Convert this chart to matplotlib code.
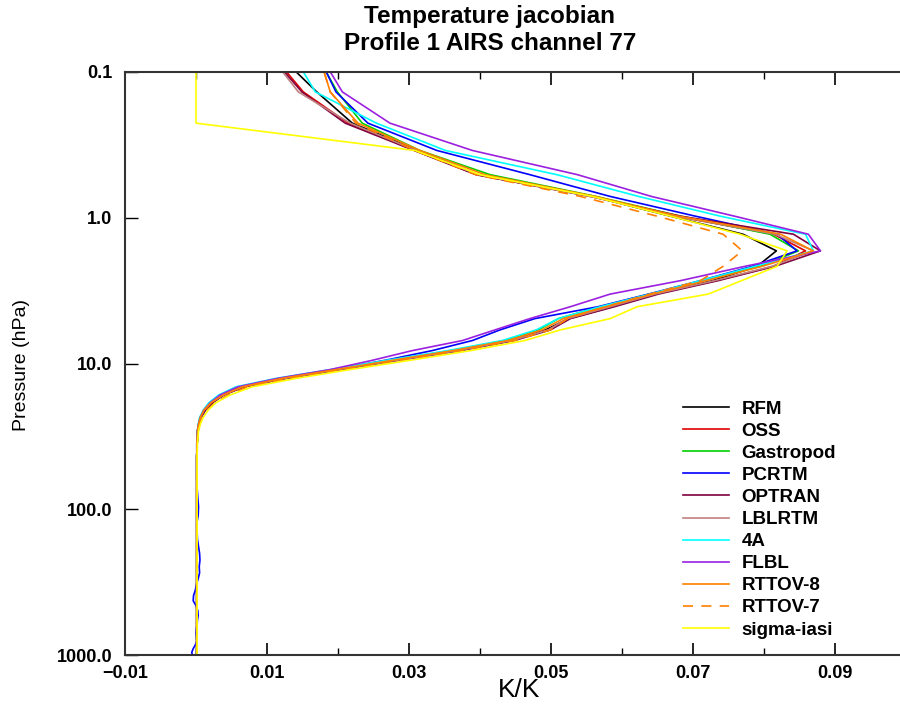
import numpy as np
import matplotlib
matplotlib.use("Agg")
import matplotlib.pyplot as plt
from matplotlib.ticker import FixedLocator, NullLocator

plt.rcParams['font.family'] = ['Liberation Sans', 'DejaVu Sans']

# AIRS pressure levels (hPa), upper part then a subset of the lower ones
p_upper = [0.0769, 0.137, 0.2244, 0.3454, 0.5064, 0.714, 0.9753, 1.2972, 1.6872,
           2.1526, 2.7009, 3.3398, 4.077, 4.9204, 5.8776, 6.9567, 8.1655, 9.5119,
           11.0038, 12.6492, 14.4559, 16.4318, 18.5847, 20.9224, 23.4526, 26.1829, 29.121]
p_lower = [35.65, 43.1, 51.53, 60.99, 71.54, 83.23, 96.11, 110.2, 125.6, 142.4,
           160.5, 180.0, 201.0, 223.4, 247.4, 272.9, 300.0, 328.7, 359.0, 390.9,
           424.5, 459.7, 496.6, 535.2, 575.5, 617.5, 661.2, 706.6, 753.6, 802.4,
           852.8, 904.9, 958.6, 1013.9]
pressure = p_upper + p_lower

# jacobians in units of 1e-3 K/K
rfm = [11.7, 17.0, 22.0, 31.3, 39.7, 55.8, 66.8, 77.0, 81.7, 79.0, 72.7, 64.6, 58.6, 52.5,
       49.2, 44.2, 36.5, 28.0, 20.0, 12.5, 6.6, 3.9, 2.3, 1.3, 0.7, 0.4, 0.3]
oss = [10.8, 15.1, 21.4, 30.8, 39.6, 55.8, 67.5, 81.3, 85.8, 81.3, 73.2, 64.6, 58.3, 52.3,
       49.6, 44.5, 36.9, 28.2, 20.0, 12.4, 6.5, 3.8, 2.1, 1.1, 0.6, 0.35, 0.2]
gastropod = [17.0, 19.9, 23.4, 31.5, 41.4, 56.3, 68.2, 80.8, 84.8, 79.4, 71.4, 63.9, 56.9, 51.0,
             48.2, 43.5, 35.8, 27.3, 19.3, 11.8, 6.2, 3.7, 2.1, 1.1, 0.6, 0.35, 0.2]
pcrtm = [17.2, 19.7, 24.2, 33.9, 47.0, 58.3, 70.3, 81.8, 84.6, 78.3, 71.0, 63.7, 56.6, 47.7,
         42.8, 38.9, 33.2, 26.6, 19.6, 12.1, 6.3, 3.7, 2.1, 1.1, 0.6, 0.35, 0.2]
optran = [10.4, 14.9, 21.0, 30.7, 39.4, 55.5, 68.2, 84.1, 87.9, 81.5, 73.5, 65.1, 58.9, 52.7,
          49.9, 44.8, 37.2, 28.5, 20.3, 12.7, 6.8, 3.9, 2.3, 1.3, 0.7, 0.4, 0.3]
lblrtm = [10.4, 14.4, 21.7, 31.0, 39.7, 55.5, 67.6, 81.5, 86.9, 81.1, 73.0, 64.6, 58.3, 52.3,
          49.6, 44.5, 36.8, 28.2, 20.0, 12.4, 6.5, 3.8, 2.1, 1.1, 0.6, 0.35, 0.2]
fourA = [13.7, 16.8, 25.4, 35.1, 50.8, 62.3, 73.8, 85.8, 86.9, 78.7, 71.0, 63.9, 56.9, 51.0,
         47.9, 43.1, 35.4, 26.8, 18.9, 11.3, 5.6, 3.2, 1.8, 1.0, 0.5, 0.3, 0.2]
flbl = [17.5, 20.6, 27.3, 38.9, 53.7, 64.1, 75.8, 86.2, 87.9, 77.3, 68.2, 58.3, 52.7, 47.0,
        42.1, 37.5, 30.4, 24.8, 18.9, 11.5, 5.9, 3.4, 2.0, 1.1, 0.6, 0.35, 0.2]
rttov8 = [17.3, 18.9, 22.8, 31.5, 40.7, 56.2, 67.9, 82.3, 86.9, 79.7, 71.8, 64.2, 57.7, 51.7,
          48.7, 43.9, 36.1, 27.6, 19.7, 12.1, 6.5, 3.8, 2.1, 1.1, 0.6, 0.35, 0.2]
rttov7 = [17.3, 18.9, 22.5, 30.8, 39.4, 54.1, 64.9, 74.2, 76.9, 74.2, 71.0, 63.9, 57.6, 52.3,
          49.9, 44.8, 37.2, 28.7, 20.6, 13.2, 7.3, 4.5, 2.7, 1.5, 0.85, 0.5, 0.3]
sigma = [0.0, 0.0, 0.0, 30.8, 40.0, 55.8, 66.8, 76.6, 83.2, 81.8, 76.8, 72.1, 62.1, 58.3,
         51.3, 46.3, 38.6, 30.1, 21.7, 14.1, 7.9, 4.8, 2.8, 1.7, 1.0, 0.6, 0.35]

# lower troposphere: nearly zero everywhere
tail = [0.15, 0.1, 0.1, 0.1, 0.1, 0.1, 0.1, 0.1, 0.1, 0.1, 0.1, 0.1, 0.1, 0.1, 0.1, 0.1, 0.1,
        0.1, 0.1, 0.1, 0.1, 0.1, 0.1, 0.1, 0.1, 0.1, 0.1, 0.1, 0.1, 0.1, 0.1, 0.1, 0.1, 0.1]
tail_pcrtm = [0.1, 0.1, 0.1, 0.1, 0.15, 0.25, 0.35, 0.3, 0.1, 0.15, 0.2, 0.35, 0.5, 0.55,
              0.45, 0.5, 0.3, 0.05, -0.1, -0.35, -0.4, 0.0, 0.25, 0.3, 0.2, 0.15, 0.05, 0.0,
              0.05, 0.1, -0.1, -0.4, -0.6, -0.5]
tail_sigma = [0.2, 0.15, 0.15, 0.15, 0.15, 0.15, 0.15, 0.15, 0.15, 0.15, 0.15, 0.15, 0.15,
              0.15, 0.15, 0.15, 0.15, 0.15, 0.15, 0.15, 0.15, 0.15, 0.15, 0.15, 0.15, 0.15,
              0.15, 0.15, 0.15, 0.15, 0.15, 0.15, 0.15, 0.15]

models = [
    ("RFM", rfm + tail, "black", "-"),
    ("OSS", oss + tail, "#e00000", "-"),
    ("Gastropod", gastropod + tail, "#00d000", "-"),
    ("PCRTM", pcrtm + tail_pcrtm, "#0000ff", "-"),
    ("OPTRAN", optran + tail, "#800040", "-"),
    ("LBLRTM", lblrtm + tail, "#c08080", "-"),
    ("4A", fourA + tail, "#00ffff", "-"),
    ("FLBL", flbl + tail, "#9c20e0", "-"),
    ("RTTOV-8", rttov8 + tail, "#ff8000", "-"),
    ("RTTOV-7", rttov7 + tail, "#ff8000", (0, (6, 5))),
    ("sigma-iasi", sigma + tail_sigma, "#ffff00", "-"),
]

fig = plt.figure(figsize=(9, 7.07), dpi=100)
ax = fig.add_axes([125/900, 1 - 655/707, 775/900, 583/707])

for name, vals, col, ls in models:
    ax.plot(np.array(vals) / 1000.0, pressure, color=col, ls=ls, lw=1.2, label=name)

ax.set_yscale('log')
ax.set_ylim(1000, 0.1)
ax.set_xlim(-0.01, 0.0991)

ax.xaxis.set_major_locator(FixedLocator([-0.01, 0.01, 0.03, 0.05, 0.07, 0.09]))
ax.xaxis.set_minor_locator(FixedLocator([0.0, 0.02, 0.04, 0.06, 0.08]))
ax.set_xticklabels(["\u22120.01", "0.01", "0.03", "0.05", "0.07", "0.09"])
ax.yaxis.set_major_locator(FixedLocator([0.1, 1, 10, 100, 1000]))
ax.yaxis.set_minor_locator(NullLocator())
ax.set_yticklabels(["0.1", "1.0", "10.0", "100.0", "1000.0"])

ax.tick_params(axis='x', which='major', direction='in', length=9, width=1.2,
               top=True, labelsize=13, pad=7)
ax.tick_params(axis='x', which='minor', direction='in', length=5, width=1.0, top=True)
ax.tick_params(axis='y', which='major', direction='in', length=9, width=1.0,
               labelsize=13, pad=9)
for lab in ax.get_xticklabels() + ax.get_yticklabels():
    lab.set_fontweight('bold')

for s in ['left', 'bottom', 'top']:
    ax.spines[s].set_color('#333333')
    ax.spines[s].set_linewidth(1.5)
ax.spines['right'].set_visible(False)

ax.set_xlabel("K/K", fontsize=19)
ax.xaxis.set_label_coords((519 - 125) / 775, -(690 - 655) / 583)
ax.xaxis.label.set_va('center')
ax.set_ylabel("Pressure (hPa)", fontsize=14)
ax.yaxis.set_label_coords(-(125 - 22) / 775, (655 - 365) / 583)
ax.yaxis.label.set_va('center')

fig.text(490 / 900, 1 - 17 / 707, "Temperature jacobian", ha='center', va='center',
         fontsize=17.5, fontweight='bold')
fig.text(490 / 900, 1 - 43 / 707, "Profile 1 AIRS channel 77", ha='center', va='center',
         fontsize=17.5, fontweight='bold')

leg = ax.legend(loc='upper left', bbox_to_anchor=((675 - 125) / 775, (655 - 393) / 583),
                frameon=False, fontsize=13.5, handlelength=2.5, handletextpad=0.64,
                labelspacing=0.265, borderaxespad=0)
for t in leg.get_texts():
    t.set_fontweight('bold')

fig.savefig("out.png", dpi=100)
